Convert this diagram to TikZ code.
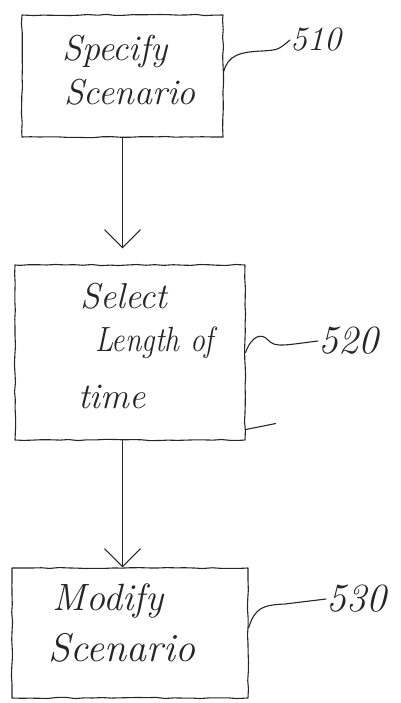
\documentclass[tikz,border=0pt]{standalone}
\usepackage{graphicx}
\usetikzlibrary{arrows.meta,decorations.pathmorphing}
\begin{document}
\begin{tikzpicture}[x=1pt,y=-1pt,
  ink/.style={draw=black!85, line width=1.1pt, line cap=round, line join=round},
  stepbox/.style={ink, rectangle, inner sep=0pt, decorate,
    decoration={random steps, segment length=9pt, amplitude=0.6pt}},
  hand/.style={font=\fontsize{#1}{#1}\selectfont\itshape, text=black!85, inner sep=0pt},
  hand/.default=34,
  flow/.style={ink, -{Straight Barb[length=18pt,width=36pt,line width=1.1pt]}},
  leader/.style={ink}
]
\useasboundingbox (0,0) rectangle (400,703);

% process boxes
\node[stepbox, minimum width=201pt, minimum height=122pt] (b1) at (122.5,76) {};
\node[stepbox, minimum width=230pt, minimum height=175pt] (b2) at (130,352.5) {};
\node[stepbox, minimum width=236pt, minimum height=130pt] (b3) at (130,633) {};

% box texts
\node[hand=36] (t1a) at (115,52) {Specify};
\node[hand=36] (t1b) at (130,92) {Scenario};
\node[hand=36, anchor=west] (t2a) at (80,296) {Select};
\node[hand=35, anchor=west] (t2b) at (95,343) {\scalebox{0.85}[1]{Length of}};
\node[hand=36, anchor=west] (t2c) at (78,397) {time};
\node[hand=38] (t3a) at (108,601) {Modify};
\node[hand=40] (t3b) at (122,648) {Scenario};

% reference numerals
\node[hand=34, anchor=west] (l1) at (290,40) {510};
\node[hand=40, anchor=west] (l2) at (318,341) {520};
\node[hand=40, anchor=west] (l3) at (326,599) {530};

% leaders
\draw[leader] ([yshift=4pt]b1.east) .. controls (228,55) and (240,52) .. (262,51)
  .. controls (278,50) .. (l1.west);
\draw[leader] (b2.east) .. controls (252,335) and (262,333) .. (268,340)
  .. controls (275,348) and (285,345) .. (l2.west);
\draw[leader] ([yshift=5pt]b3.east) .. controls (255,608) and (262,605) .. (285,604)
  -- (l3.west);

% stray stroke at the corner of the second box
\draw[ink] ([yshift=11pt]b2.south east) -- ++(30,-6);

% flow arrows
\draw[flow] (b1.south) -- ([yshift=16pt]b1.south |- b2.north);
\draw[flow] (b2.south -| b1.south) -- (b3.north -| b1.south);
\end{tikzpicture}
\end{document}
